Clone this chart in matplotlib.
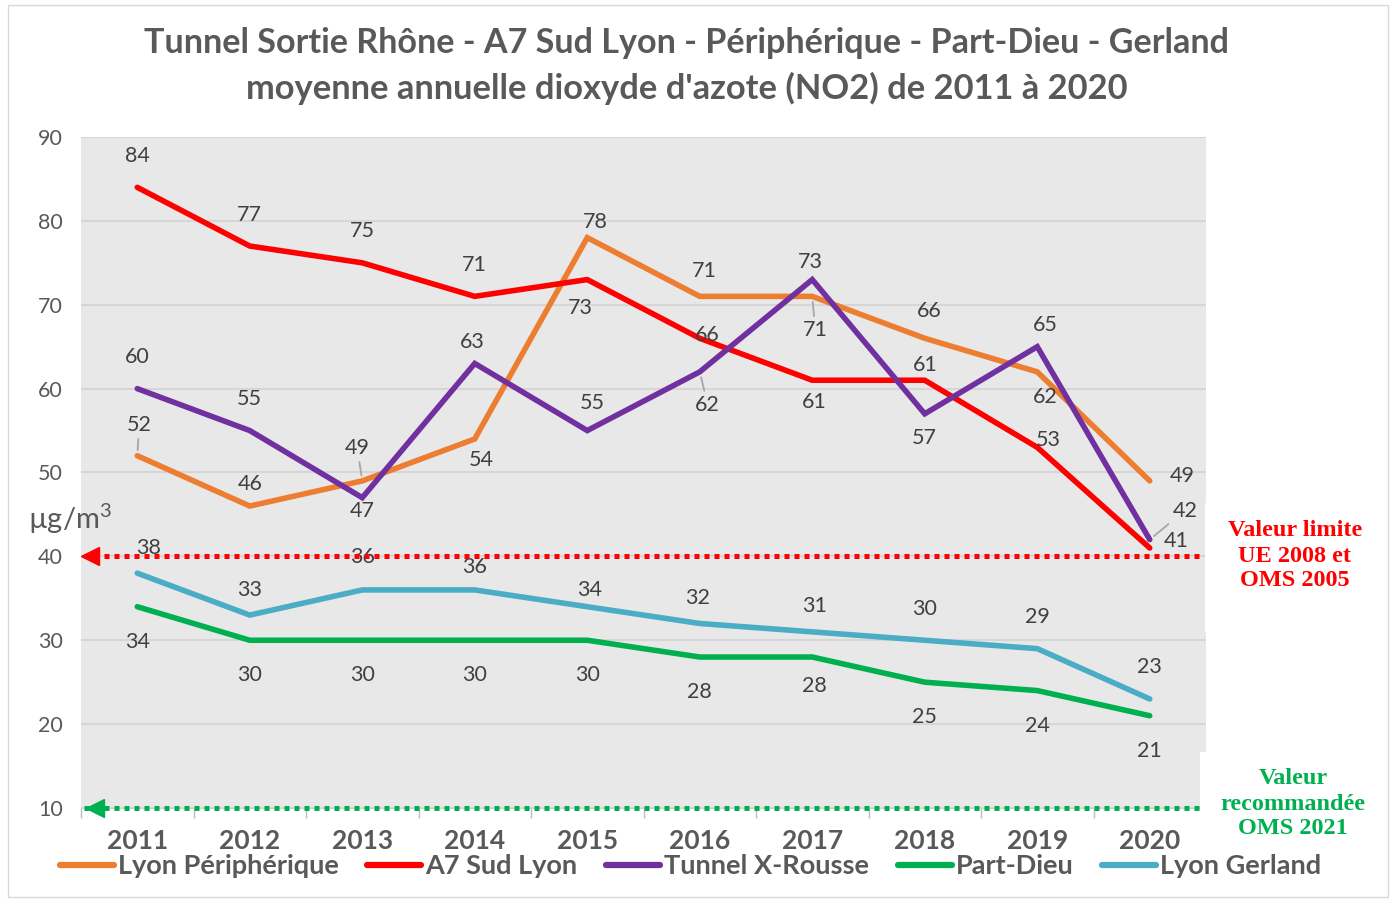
import matplotlib.pyplot as plt
from matplotlib.lines import Line2D
from matplotlib.patches import Rectangle

# ---------------- data ----------------
years = ['2011', '2012', '2013', '2014', '2015', '2016', '2017', '2018', '2019', '2020']
lyon_peri = [52, 46, 49, 54, 78, 71, 71, 66, 62, 49]
a7_sud = [84, 77, 75, 71, 73, 66, 61, 61, 53, 41]
tunnel_xr = [60, 55, 47, 63, 55, 62, 73, 57, 65, 42]
part_dieu = [34, 30, 30, 30, 30, 28, 28, 25, 24, 21]
gerland = [38, 33, 36, 36, 34, 32, 31, 30, 29, 23]

limite_ue = 40
reco_oms = 10

# label offsets in pixels (dx, dy), dy positive = down like in the picture
off_peri = [(2, -31), (0, -22), (-5, -33), (7, 21), (8, -16), (5, -25), (3, 34), (4, -27), (8, 25), (32, -5)]
off_a7 = [(0, -31), (0, -31), (0, -32), (0, -31), (-7, 28), (8, -3), (2, 22), (0, -15), (11, -7), (26, -7)]
off_xr = [(0, -32), (0, -32), (0, 13), (-2, -21), (5, -28), (8, 33), (-2, -18), (0, 24), (8, -22), (35, -29)]
off_pd = [(0, 35), (0, 35), (0, 35), (0, 35), (0, 35), (0, 35), (2, 29), (0, 35), (0, 35), (0, 35)]
off_ge = [(11, -25), (0, -25), (0, -33), (0, -23), (2, -17), (-2, -25), (2, -26), (0, -31), (0, -32), (0, -32)]
# labels that get a small grey leader line
leaders = {('peri', 0), ('peri', 2), ('peri', 6), ('xr', 5), ('xr', 9)}

series = [
    ('peri', 'Lyon Périphérique', lyon_peri, '#ED7D31', off_peri),
    ('a7', 'A7 Sud Lyon', a7_sud, '#FF0000', off_a7),
    ('xr', 'Tunnel X-Rousse', tunnel_xr, '#7030A0', off_xr),
    ('pd', 'Part-Dieu', part_dieu, '#00B050', off_pd),
    ('ge', 'Lyon Gerland', gerland, '#4BACC6', off_ge),
]

plt.rcParams['font.family'] = ['Lato', 'DejaVu Sans']
plt.rcParams['mathtext.fontset'] = 'custom'
plt.rcParams['mathtext.rm'] = 'Lato'
grey_txt = '#595959'
lab_col = '#404040'
px = 0.72  # pixel -> point at dpi 100

fig = plt.figure(figsize=(13.91, 9.01), dpi=100)
ax = fig.add_axes([81 / 1391, 1 - 808 / 901, (1206 - 81) / 1391, (808 - 137) / 901])
ax.set_facecolor('#E8E8E8')

x = list(range(len(years)))
for key, name, vals, col, offs in series:
    ax.plot(x, vals, color=col, lw=4, solid_capstyle='round', solid_joinstyle='miter',
            label=name, zorder=3)
    for i, v in enumerate(vals):
        dx, dy = offs[i]
        kw = {}
        if (key, i) in leaders:
            kw['arrowprops'] = dict(arrowstyle='-', color='#A6A6A6', lw=1.3, shrinkA=1, shrinkB=4)
        ax.annotate(str(v), (i, v), xytext=(dx * px, -dy * px), textcoords='offset points',
                    ha='center', va='center', fontsize=15.5, color=lab_col, zorder=4, **kw)

# threshold lines with left arrow
ax.plot([-0.47, 9.45], [limite_ue, limite_ue], color='#FF0000', lw=3.6,
        linestyle=(0, (1, 1)), dash_capstyle='butt', zorder=5)
ax.plot([-0.42], [limite_ue], marker='<', color='#FF0000', markersize=13, zorder=6)
ax.plot([-0.47, 9.45], [reco_oms, reco_oms], color='#00B050', lw=3.6,
        linestyle=(0, (1, 1)), dash_capstyle='butt', zorder=5, clip_on=False)
ax.plot([-0.38], [reco_oms], marker='<', color='#00B050', markersize=13, zorder=6, clip_on=False)

ax.set_xlim(-0.5, 9.5)
ax.set_ylim(10, 90)
ax.set_yticks(range(10, 91, 10))
ax.set_xticks(x)
ax.set_xticklabels(years, fontsize=19, fontweight='bold', color=grey_txt)
ax.set_xticks([i + 0.5 for i in range(-1, 10)], minor=True)
ax.tick_params(axis='x', which='major', length=0, pad=15)
ax.tick_params(axis='x', which='minor', length=7, color='#BFBFBF', width=1)
ax.tick_params(axis='y', length=0, pad=22, labelsize=15.5, labelcolor=grey_txt)
for lbl in ax.get_yticklabels():
    lbl.set_ha('center')
ax.grid(axis='y', color='#D6D6D6', lw=1.5, zorder=0)
ax.set_axisbelow(True)
for s in ['top', 'right', 'left']:
    ax.spines[s].set_visible(False)
ax.spines['bottom'].set_color('#D0D0D0')

# unit
fig.text(70 / 1391, 1 - 519 / 901, 'µg/m$^{\\mathrm{3}}$', fontsize=21, color=grey_txt, ha='center', va='center')

# title
fig.text(687 / 1391, 1 - 43 / 901, 'Tunnel Sortie Rhône - A7 Sud Lyon - Périphérique - Part-Dieu - Gerland',
         fontsize=24.6, fontweight='bold', color=grey_txt, ha='center', va='center')
fig.text(687 / 1391, 1 - 88 / 901, "moyenne annuelle dioxyde d'azote (NO2) de 2011 à 2020",
         fontsize=24.8, fontweight='bold', color=grey_txt, ha='center', va='center')

# right-hand text boxes
fig.patches.append(Rectangle((1205 / 1391, 1 - 632 / 901), 180 / 1391, 129 / 901,
                             transform=fig.transFigure, facecolor='white', edgecolor='none', zorder=10))
fig.patches.append(Rectangle((1200 / 1391, 1 - 848 / 901), 185 / 1391, 96 / 901,
                             transform=fig.transFigure, facecolor='white', edgecolor='none', zorder=10))
fig.text(1295 / 1391, 1 - 556 / 901, 'Valeur limite\nUE 2008 et\nOMS 2005', fontsize=17.5,
         fontweight='bold', family='Liberation Serif', color='#FF0000', ha='center', va='center',
         linespacing=1.25, zorder=11)
fig.text(1293 / 1391, 1 - 804 / 901, 'Valeur\nrecommandée\nOMS 2021', fontsize=17.5,
         fontweight='bold', family='Liberation Serif', color='#00B050', ha='center', va='center',
         linespacing=1.25, zorder=11)

# legend
handles = [Line2D([0], [0], color=c, lw=4.5, solid_capstyle='round') for _, _, _, c, _ in series]
leg = fig.legend(handles, [n for _, n, _, _, _ in series], loc='center', bbox_to_anchor=(0.4965, 1 - 866 / 901),
                 ncol=5, frameon=False, handlelength=2.0, handletextpad=0.15, columnspacing=1.05,
                 prop={'size': 19.5, 'weight': 'bold'})
leg.set_zorder(12)
for t in leg.get_texts():
    t.set_color(grey_txt)

# outer frame
fig.patches.append(Rectangle((8 / 1391, 1 - 897 / 901), 1380 / 1391, 892 / 901, transform=fig.transFigure,
                             facecolor='none', edgecolor='#D9D9D9', lw=1, zorder=0))

fig.savefig('out.png', dpi=100)
